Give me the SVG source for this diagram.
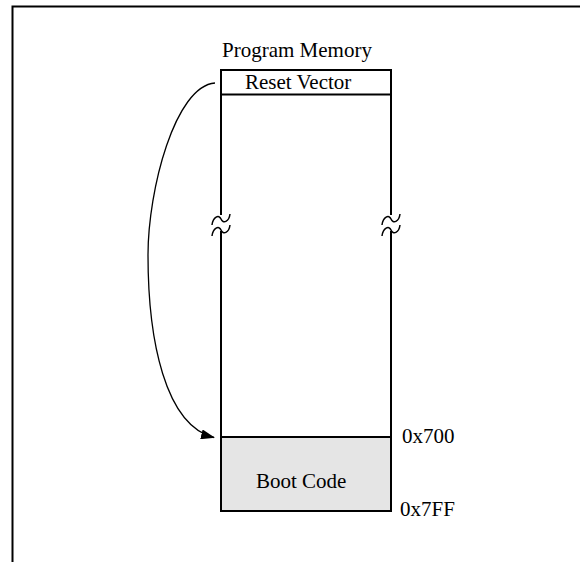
<svg xmlns="http://www.w3.org/2000/svg" width="580" height="562" viewBox="0 0 580 562">
<style>
.t{font-family:"Liberation Serif","Times New Roman",serif;font-size:21px;fill:#000}
.ln{stroke:#000;stroke-width:2;fill:none}
.br{stroke:#000;stroke-width:1.5;fill:none}
</style>
<defs>
<marker id="ah" markerWidth="14" markerHeight="10" refX="13" refY="5" orient="auto" markerUnits="userSpaceOnUse">
<path d="M0,0 L14,5 L0,10 Z" fill="#000"/>
</marker>
</defs>
<rect width="580" height="562" fill="#fff"/>
<path class="ln" d="M12.5,562 V6.5 H580"/>
<text class="t" x="222" y="56.5">Program Memory</text>
<g id="memory">
<rect x="221" y="437" width="170" height="74" fill="#e5e5e5"/>
<path class="ln" d="M221,215 V70 H391 V215"/>
<path class="ln" d="M221,231 V511 H391 V231"/>
<path class="ln" d="M221,94.5 H391"/>
<path class="ln" d="M221,437 H391"/>
<path class="br" d="M212,225 C213,217 219,214 221,219 C223,224 229,222 230,214"/>
<path class="br" d="M212,236 C213,228 219,225 221,230 C223,235 229,233 230,225"/>
<path class="br" d="M382,225 C383,217 389,214 391,219 C393,224 399,222 400,214"/>
<path class="br" d="M382,236 C383,228 389,225 391,230 C393,235 399,233 400,225"/>
</g>
<g id="reset-vector"><text class="t" x="245" y="89">Reset Vector</text></g>
<g id="boot-code"><text class="t" x="256" y="488">Boot Code</text></g>
<g id="labels">
<text class="t" x="402" y="443">0x700</text>
<text class="t" x="400" y="516">0x7FF</text>
</g>
<g id="connectors">
<path d="M215,83 C175,86 148,190 148,255 C148,340 165,425 214,437.5" fill="none" stroke="#000" stroke-width="1.3" marker-end="url(#ah)"/>
</g>
</svg>
